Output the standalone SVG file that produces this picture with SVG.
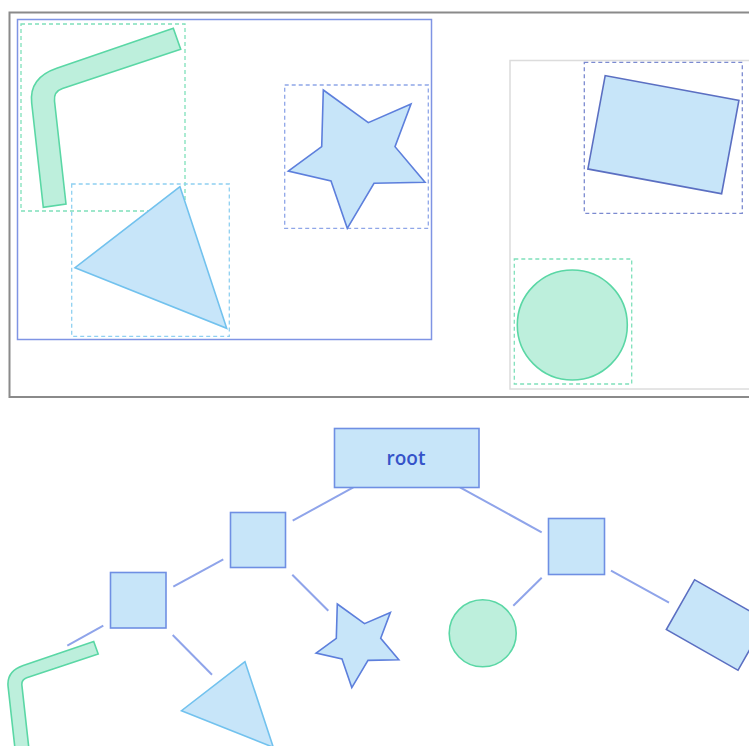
<svg xmlns="http://www.w3.org/2000/svg" width="749" height="746" viewBox="0 0 749 746">
<style>
.blue{fill:#c7e5f9;stroke:#6f8fe3;stroke-width:1.6}
.star{fill:#c7e5f9;stroke:#5d7fdc;stroke-width:1.6;stroke-linejoin:miter}
.rot{fill:#c7e5f9;stroke:#5b6fc2;stroke-width:1.6}
.tri{fill:#c7e5f9;stroke:#72c2ee;stroke-width:1.6}
.green{fill:#bdefdc;stroke:#5ad7a5;stroke-width:1.6}
.edge{stroke:#8fa4ea;stroke-width:2;fill:none}
.dash{fill:none;stroke-width:1.3;stroke-dasharray:4 3}
.label{font-family:"Open Sans","Liberation Sans",sans-serif;font-weight:600;font-size:19px;fill:#3553c9}
</style>
<rect width="749" height="746" fill="#ffffff"/>
<g id="canvas">
  <rect x="9.5" y="12.5" width="800" height="384.5" fill="none" stroke="#8a8a8a" stroke-width="2"/>
  <rect x="17.5" y="19.5" width="414" height="320" fill="none" stroke="#7f94e4" stroke-width="1.5"/>
  <rect x="510" y="60.5" width="300" height="328.5" fill="none" stroke="#dcdcdc" stroke-width="1.5"/>
  <g id="top-bar">
    <rect class="dash" x="21" y="24" width="164" height="187" stroke="#7fe0bb"/>
    <path class="green" d="M173.3,28.3 L180.7,49.3 L62.5,88.5 Q53.5,91.5 54.5,101 L66,204 L43.3,207.3 L31.7,103 Q28.9,77.8 56.7,68.3 Z"/>
  </g>
  <g id="top-triangle">
    <rect class="dash" x="71.7" y="184" width="157.6" height="152.3" stroke="#8fd0f1"/>
    <polygon class="tri" points="180,186.7 75,267.7 226.7,328.3"/>
  </g>
  <g id="top-star">
    <rect class="dash" x="284.7" y="85" width="143.6" height="143.3" stroke="#8fa6e8"/>
    <polygon class="star" points="323.3,90 368.3,122.7 411,104 395,146.7 425,182.3 374,183.3 347.3,228.3 331,181 288.3,171 321.7,146.7"/>
  </g>
  <g id="top-rect">
    <rect class="dash" x="584.3" y="62.3" width="158" height="151" stroke="#7b8ad0"/>
    <rect class="rot" x="-68" y="-47.5" width="136" height="95" transform="translate(663.4,134.7) rotate(10.5)"/>
  </g>
  <g id="top-circle">
    <rect class="dash" x="514.3" y="259" width="117.4" height="125" stroke="#7fe0bb"/>
    <circle class="green" cx="572.3" cy="325" r="55"/>
  </g>
</g>
<g id="connectors">
  <line class="edge" x1="353.3" y1="487.3" x2="292.7" y2="520.7"/>
  <line class="edge" x1="460" y1="487.3" x2="541.7" y2="532.3"/>
  <line class="edge" x1="223.3" y1="559.3" x2="173.3" y2="586.7"/>
  <line class="edge" x1="292.3" y1="574.7" x2="328.3" y2="610.7"/>
  <line class="edge" x1="103.3" y1="625.7" x2="67.3" y2="645.7"/>
  <line class="edge" x1="172.7" y1="635" x2="212" y2="674.7"/>
  <line class="edge" x1="541.7" y1="577.7" x2="513.3" y2="605.7"/>
  <line class="edge" x1="611" y1="570.7" x2="669" y2="602.7"/>
</g>
<g id="root">
  <rect class="blue" x="334.5" y="428.5" width="144.5" height="59"/>
  <text class="label" x="406" y="464.5" text-anchor="middle">root</text>
</g>
<g id="group-a">
  <rect class="blue" x="230.5" y="512.5" width="55" height="55"/>
</g>
<g id="group-b">
  <rect class="blue" x="110.5" y="572.5" width="55.5" height="55.5"/>
</g>
<g id="group-c">
  <rect class="blue" x="548.5" y="518.5" width="56" height="56"/>
</g>
<g id="bar">
  <path class="green" d="M93.7,641.4 L98.2,654.1 L26.7,677.8 Q21.3,679.7 21.9,685.4 L28.8,747.7 L15.1,749.7 L8.1,686.6 Q6.4,671.4 23.2,665.6 Z"/>
</g>
<g id="triangle">
  <polygon class="tri" points="245,661.7 181.5,710.7 273.3,747.3"/>
</g>
<g id="star">
  <polygon class="star" points="337.3,604 364.5,623.7 390.4,612.4 380.7,638.3 398.8,659.8 368,660.4 351.8,687.6 342,659 316.1,653 336.3,638.3"/>
</g>
<g id="circle">
  <circle class="green" cx="482.7" cy="633.3" r="33.5"/>
</g>
<g id="rect">
  <rect class="rot" x="-41.2" y="-28.6" width="82.4" height="57.2" transform="translate(716.3,625) rotate(29.6)"/>
</g>
</svg>
